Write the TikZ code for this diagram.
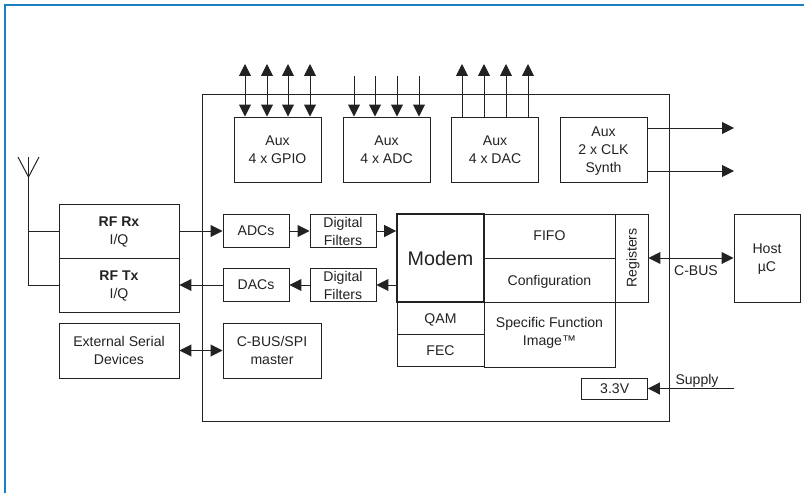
\documentclass[tikz,border=0pt]{standalone}
\usepackage{fontspec}
\setmainfont{Liberation Sans}
\usetikzlibrary{arrows.meta}
\definecolor{framecol}{HTML}{1B7FC4}
\definecolor{inkcol}{HTML}{222222}
\tikzset{
  block/.style 2 args={draw=inkcol, text=inkcol, line width=0.7pt, inner sep=0pt, align=center, text depth=0pt,
    font=\fontsize{10}{12.8}\selectfont, minimum width=#1*0.025cm, minimum height=#2*0.025cm},
  tag/.style={text=inkcol, inner sep=0pt, text depth=0pt, align=center, font=\fontsize{10}{12.8}\selectfont},
  wire/.style={draw=inkcol, line width=0.7pt},
  arrowto/.style={wire, -{Triangle[length=8.5pt,width=8.5pt]}},
  arrowboth/.style={wire, {Triangle[length=8.5pt,width=8.5pt]}-{Triangle[length=8.5pt,width=8.5pt]}}
}
\begin{document}
\begin{tikzpicture}[x=0.025cm,y=-0.025cm]
  \useasboundingbox (0,0) rectangle (804,493);

  % Outer frame, only left and top sides are visible
  \coordinate (framebl) at (5,493);
  \coordinate (frametl) at (5,5);
  \coordinate (frametr) at (804,5);
  \draw [framecol, line width=1pt] (framebl) -- (frametl) -- (frametr);

  % Chip outline
  \node [block={467}{327}] (chip) at (436,257.5) {};

  % Aux blocks along the top
  \node [block={87}{65}] (gpio) at (277.5,149.5) {Aux\\4 x GPIO};
  \node [block={87}{65}] (auxadc) at (386.5,149.5) {Aux\\4 x ADC};
  \node [block={87}{65}] (auxdac) at (495,149.5) {Aux\\4 x DAC};
  \node [block={87}{65}] (clk) at (603.5,149.5) {Aux\\2 x CLK\\Synth};

  % RF and external blocks on the left
  \node [block={120}{54}] (rfrx) at (119,231) {\textbf{RF Rx}\\I/Q};
  \node [block={120}{54}] (rftx) at (119,285) {\textbf{RF Tx}\\I/Q};
  \node [block={120}{55}] (serial) at (119,350.5) {External Serial\\Devices};

  % Converters and filters
  \node [block={66}{33}] (adcs) at (256,231) {ADCs};
  \node [block={66}{33}] (adcfilt) at (343,231) {Digital\\Filters};
  \node [block={66}{33}] (dacs) at (256,285) {DACs};
  \node [block={66}{33}] (dacfilt) at (343,285) {Digital\\Filters};
  \node [block={98}{55}] (spi) at (272,350.5) {C-BUS/SPI\\master};

  % Function image blocks
  \node [block={131}{44}] (fifo) at (549.5,236) {FIFO};
  \node [block={131}{44}] (config) at (549.5,280) {Configuration};
  \node [block={88}{33}, rotate=90] (registers) at (631.5,258) {Registers};
  \node [block={87}{32.5}] (qam) at (440.5,318.2) {QAM};
  \node [block={87}{32.5}] (fec) at (440.5,350.7) {FEC};
  \node [block={131}{65}] (sfi) at (549.5,334.5) {};
  \node [tag] (sfitext) at (549.5,331) {Specific Function\\Image™};
  \node [block={87}{88}, line width=1.2pt, font=\fontsize{14}{16}\selectfont] (modem) at (440.5,258) {Modem};

  % Host and supply
  \node [block={66}{88}] (host) at (767,258) {Host\\µC};
  \node [block={65.5}{21}] (vreg) at (614.7,388.5) {3.3V};
  \node [tag] (cbus) at (696,271) {C-BUS};
  \node [tag] (supply) at (697,379) {Supply};

  % Free ends of the connectors
  \coordinate (supplyin) at (734,388.5);
  \coordinate (clkout1) at (734,128);
  \coordinate (clkout2) at (734,171);

  % Aux pins
  \foreach \x in {245,267,288,310} {
    \coordinate (pin) at (\x,64);
    \draw [arrowboth] (pin) -- (pin |- gpio.north);
  }
  \foreach \x in {354,375,397,419} {
    \coordinate (pin) at (\x,76);
    \draw [arrowto] (pin) -- (pin |- auxadc.north);
  }
  \foreach \x in {462,484,506,528} {
    \coordinate (pin) at (\x,64);
    \draw [arrowto] (pin |- auxdac.north) -- (pin);
  }
  \draw [arrowto] (clkout1 -| clk.east) -- (clkout1);
  \draw [arrowto] (clkout2 -| clk.east) -- (clkout2);

  % Antenna
  \coordinate (antfork) at (28.5,177);
  \coordinate (antleft) at (18,157);
  \coordinate (antmid) at (28.5,157);
  \coordinate (antright) at (39,157);
  \draw [wire] (antleft) -- (antfork) -- (antright);
  \draw [wire] (antmid) -- (antfork) |- (rftx.west);
  \draw [wire] (antfork |- rfrx.west) -- (rfrx.west);

  % Signal path
  \draw [arrowto] (rfrx.east) -- (adcs.west);
  \draw [arrowto] (adcs.east) -- (adcfilt.west);
  \draw [arrowto] (adcfilt.east) -- (adcfilt.east -| modem.west);
  \draw [arrowto] (dacfilt.east -| modem.west) -- (dacfilt.east);
  \draw [arrowto] (dacfilt.west) -- (dacs.east);
  \draw [arrowto] (dacs.west) -- (rftx.east);
  \draw [arrowboth] (serial.east) -- (spi.west);
  \draw [arrowboth] (registers.south) -- (host.west);
  \draw [arrowto] (supplyin) -- (vreg.east);
\end{tikzpicture}
\end{document}
